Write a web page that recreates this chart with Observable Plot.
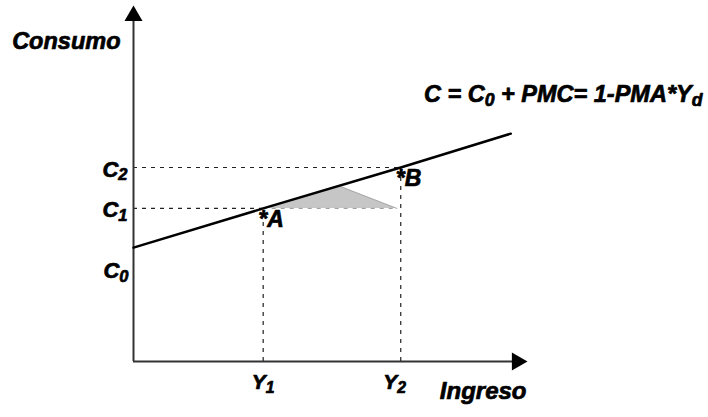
<!DOCTYPE html>
<html><head><meta charset="utf-8">
<script src="https://cdn.jsdelivr.net/npm/d3@7"></script>
<script src="https://cdn.jsdelivr.net/npm/@observablehq/plot@0.6"></script>
<style>body{margin:0;background:#fff}</style>
</head><body><div id="chart"></div>
<script>
// ---- data (abstract units: both axes 0..100) ----
const incomeTicks = [33, 68];
const incomeTickLabels = ["Y_1", "Y_2"];
const consumptionTicks = [32, 43, 54.5];
const consumptionTickLabels = ["C_0", "C_1", "C_2"];
const lineIncome = [0, 33, 68, 96];
const lineConsumption = [32, 43, 54.5, 64];
const pointNames = ["A", "B"];
const pointIncome = [33, 68];
const pointConsumption = [43, 54.5];
const triangleIncome = [33, 53, 67];
const triangleConsumption = [43, 49, 43];
const xTitle = "Ingreso";
const yTitle = "Consumo";
const equation = "C = C_0 + PMC= 1-PMA*Y_d";
const axisEnd = {x: 97, y: 96, xHead: 97.6, yHead: 97.1};

const font = {fontFamily: "'Liberation Sans', Arial, sans-serif", fontWeight: "bold", fontStyle: "italic", fill: "black", stroke: "black", strokeWidth: 0.7};
const dash = "4,5";
const axisColor = "#333";

const chart = Plot.plot({
  width: 708, height: 417,
  marginLeft: 133, marginRight: 182, marginTop: 5, marginBottom: 56,
  x: {domain: [0, 100], axis: null},
  y: {domain: [0, 100], axis: null},
  marks: [
    // shaded triangle
    Plot.areaY(triangleIncome, {x: d => d, y1: triangleConsumption[0], y2: (d, i) => triangleConsumption[i], fill: "#c6c6c6"}),
    Plot.line(triangleIncome.slice(1), {x: d => d, y: (d, i) => triangleConsumption[i + 1], stroke: "#a8a8a8", strokeWidth: 1}),
    Plot.ruleY([pointConsumption[0]], {x1: pointIncome[0], x2: triangleIncome[2], stroke: "#999", strokeDasharray: dash}),
    // dashed guides
    Plot.ruleY(pointConsumption, {x1: 0, x2: (d, i) => pointIncome[i], stroke: "#222", strokeDasharray: dash, strokeWidth: 1.2}),
    Plot.ruleX(pointIncome, {y1: 0, y2: (d, i) => pointConsumption[i], stroke: "#222", strokeDasharray: dash, strokeWidth: 1.2}),
    // axes
    Plot.ruleX([0], {y1: 0, y2: axisEnd.y, stroke: axisColor, strokeWidth: 2}),
    Plot.ruleY([0], {x1: 0, x2: axisEnd.x, stroke: axisColor, strokeWidth: 2}),
    Plot.dot([0], {x: 0, y: axisEnd.yHead, symbol: "triangle", r: 6.7, fill: "black", stroke: null}),
    Plot.dot([0], {x: axisEnd.xHead, y: 0, symbol: "triangle", r: 6.7, fill: "black", stroke: null, rotate: 90}),
    // consumption function
    Plot.line(lineIncome, {x: d => d, y: (d, i) => lineConsumption[i], stroke: "black", strokeWidth: 2.5}),
    // tick labels
    Plot.text([consumptionTicks[0]], {x: 0, y: d => d, text: () => consumptionTickLabels[0], textAnchor: "end", dx: -5, dy: 23, fontSize: 22, ...font}),
    Plot.text(consumptionTicks.slice(1), {x: 0, y: d => d, text: (d, i) => consumptionTickLabels[i + 1], textAnchor: "end", dx: -6, dy: 2, fontSize: 22, ...font}),
    Plot.text([incomeTicks[0]], {x: d => d, y: 0, text: () => incomeTickLabels[0], dy: 21, fontSize: 21, ...font}),
    Plot.text([incomeTicks[1]], {x: d => d, y: 0, text: () => incomeTickLabels[1], dx: -6, dy: 21, fontSize: 21, ...font}),
    // points
    Plot.text(pointIncome, {x: d => d, y: (d, i) => pointConsumption[i], text: (d, i) => "*" + pointNames[i], textAnchor: "start", dx: -5, dy: 11, fontSize: 23, ...font}),
    // titles
    Plot.text([yTitle], {frameAnchor: "top-left", textAnchor: "end", dx: -13, dy: 27, fontSize: 23.5, ...font}),
    Plot.text([xTitle], {frameAnchor: "bottom-right", textAnchor: "end", dy: 37, fontSize: 24, ...font}),
    Plot.text([equation], {frameAnchor: "top-right", textAnchor: "end", dx: 176, dy: 80, fontSize: 23.5, ...font})
  ]
});
document.getElementById("chart").appendChild(chart);

// turn "X_n" into subscripts
d3.select(chart).selectAll("text").each(function() {
  const s = this.textContent;
  if (!s.includes("_")) return;
  const fs = parseFloat(getComputedStyle(this).fontSize) || 16;
  this.textContent = "";
  const parts = s.split(/_(.)/);
  let shifted = false;
  parts.forEach((p, i) => {
    if (!p) return;
    const ts = document.createElementNS("http://www.w3.org/2000/svg", "tspan");
    ts.textContent = p;
    if (i % 2 === 1) {
      ts.setAttribute("font-size", fs * 0.75);
      ts.setAttribute("dy", fs * 0.18);
      shifted = true;
    } else if (shifted) {
      ts.setAttribute("dy", -fs * 0.18);
      shifted = false;
    }
    this.appendChild(ts);
  });
});
</script>
</body></html>
